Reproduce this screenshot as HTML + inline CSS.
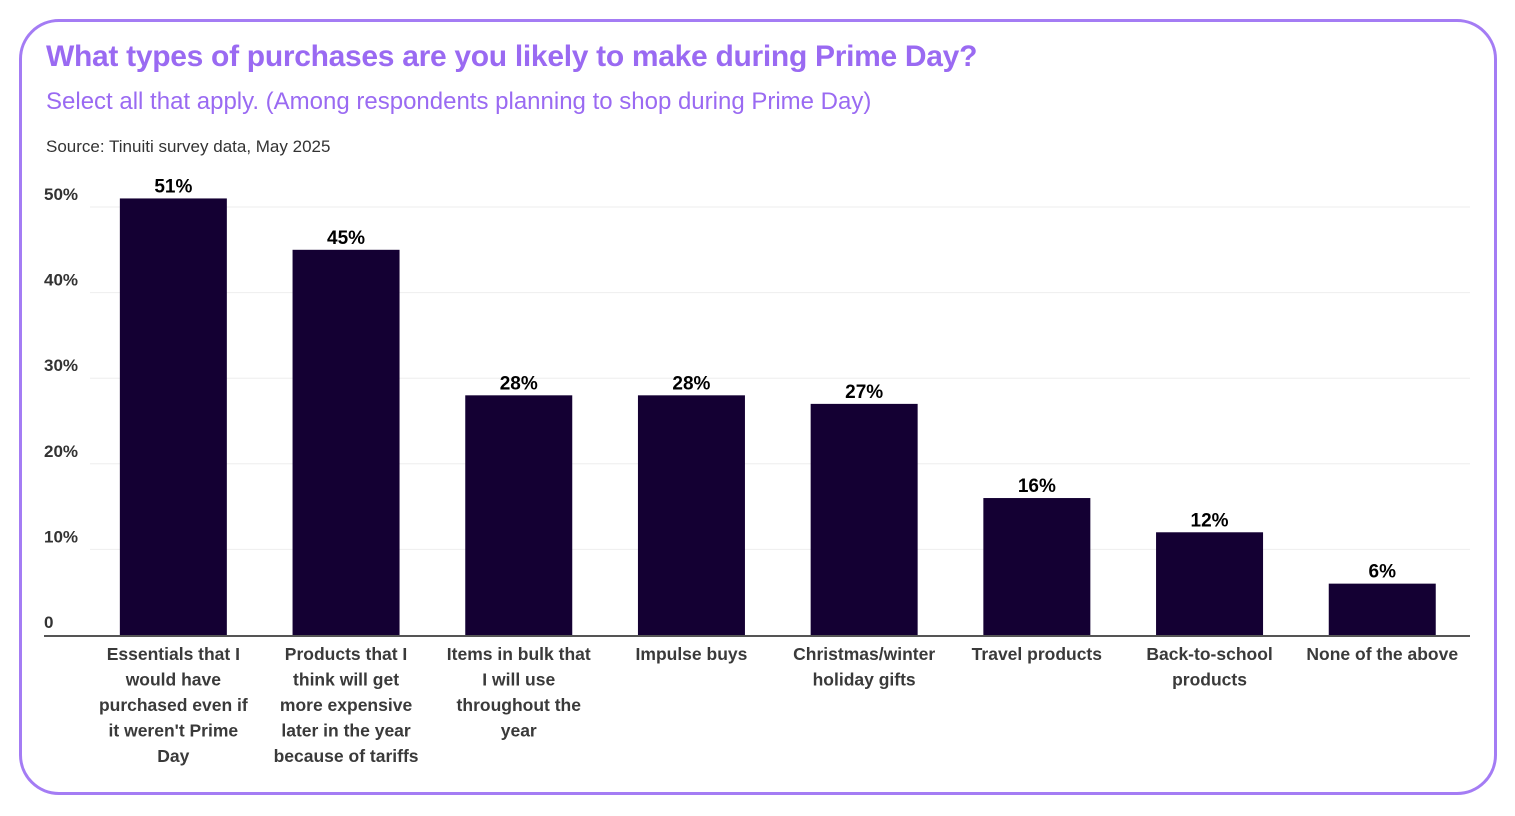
<!DOCTYPE html>
<html><head><meta charset="utf-8">
<style>
html,body{margin:0;padding:0;background:#fff;}
body{width:1515px;height:816px;position:relative;overflow:hidden;font-family:"Liberation Sans",sans-serif;}
.card{position:absolute;left:19px;top:19px;width:1472px;height:770px;border:3px solid #a47cf4;border-radius:40px;box-sizing:content-box;}
.title{position:absolute;left:46px;top:40px;font-size:30px;font-weight:bold;color:#9a6af2;letter-spacing:-0.3px;}
.sub{position:absolute;left:46px;top:88px;font-size:24px;color:#9a6af2;}
.src{position:absolute;left:46px;top:137px;font-size:17px;color:#333;}
svg{position:absolute;left:0;top:0;}
</style></head><body>
<div class="card"></div>
<div class="title">What types of purchases are you likely to make during Prime Day?</div>
<div class="sub">Select all that apply. (Among respondents planning to shop during Prime Day)</div>
<div class="src">Source: Tinuiti survey data, May 2025</div>
<svg id="chart" width="1515" height="816"></svg>
<script>
const categories=[["Essentials that I","would have","purchased even if","it weren't Prime","Day"],["Products that I","think will get","more expensive","later in the year","because of tariffs"],["Items in bulk that","I will use","throughout the","year"],["Impulse buys"],["Christmas/winter","holiday gifts"],["Travel products"],["Back-to-school","products"],["None of the above"]];
const values=[51,45,28,28,27,16,12,6];
const valueLabels=["51%","45%","28%","28%","27%","16%","12%","6%"];
const ticks=[0,10,20,30,40,50];
const tickLabels=["0","10%","20%","30%","40%","50%"];
const NS="http://www.w3.org/2000/svg";
const svg=document.getElementById('chart');
const y0=635,pxPer=8.56,bandStart=87,band=172.7,barW=107;
const y=v=>y0-v*pxPer;
const xc=i=>bandStart+band*(i+0.5);
function mk(t,a){const e=document.createElementNS(NS,t);for(const k in a)e.setAttribute(k,a[k]);svg.appendChild(e);return e;}
ticks.forEach((t,i)=>{
  if(t>0){const g=mk('line',{x1:90,x2:1470,y1:y(t),y2:y(t),stroke:'#eeeeee','stroke-width':1});
  
  }
  const l=mk('text',{x:44,y:y(t)-7,'font-size':17,'font-weight':'bold',fill:'#333','font-family':'Liberation Sans, sans-serif'});
  l.textContent=tickLabels[i];
  
  
});
values.forEach((v,i)=>{
  const r=mk('rect',{x:xc(i)-barW/2,y:y(v),width:barW,height:y0-y(v),fill:'#140033'});
  
  
  const t=mk('text',{x:xc(i),y:y(v)-6,'text-anchor':'middle','font-size':19,'font-weight':'bold',fill:'#000','font-family':'Liberation Sans, sans-serif'});
  t.textContent=valueLabels[i];
  
  
  categories[i].forEach((line,j)=>{
    const c=mk('text',{x:xc(i),y:660+j*25.5,'text-anchor':'middle','font-size':17.5,'font-weight':'bold',fill:'#3a3a3a','font-family':'Liberation Sans, sans-serif'});
    c.textContent=line;
    
    
  });
});
const ax=mk('line',{x1:44,x2:1470,y1:y0+1,y2:y0+1,stroke:'#555','stroke-width':2});


</script>
</body></html>
